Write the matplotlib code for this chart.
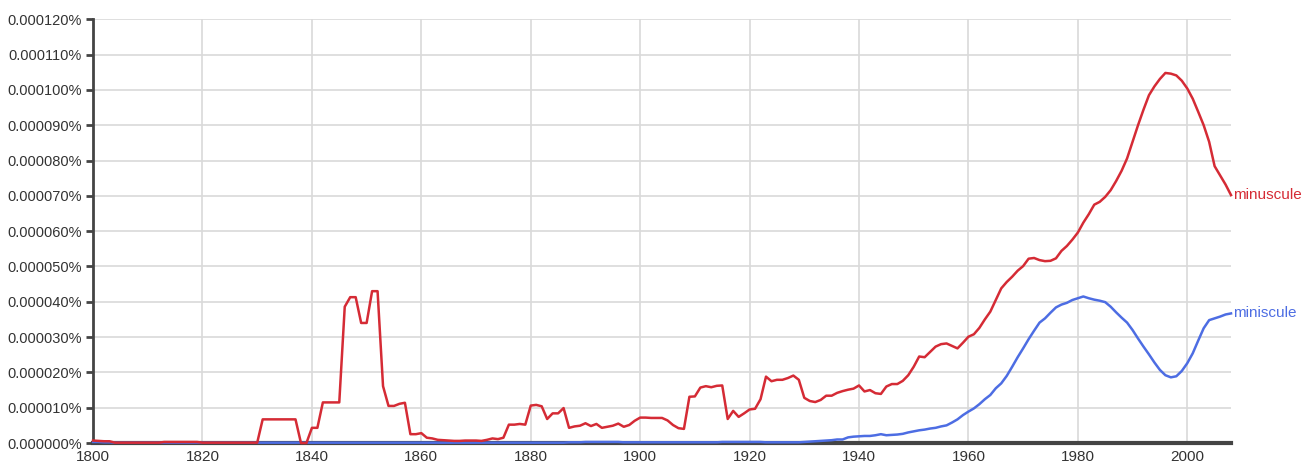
import numpy as np
import matplotlib
matplotlib.use('Agg')
from matplotlib import pyplot as plt
from matplotlib.ticker import FuncFormatter

#Data: yearly frequency, in units of 0.000001 percent
years = list(range(1800, 2009))

minuscule = [
    # 1800-1839
    0.7, 0.6, 0.5, 0.5, 0.1, 0.1, 0.1, 0.1, 0.1, 0.1,
    0.1, 0.1, 0.1, 0.3, 0.3, 0.3, 0.3, 0.3, 0.3, 0.3,
    0.1, 0.1, 0.1, 0.1, 0.1, 0.1, 0.1, 0.1, 0.1, 0.1,
    0.1, 6.7, 6.7, 6.7, 6.7, 6.7, 6.7, 6.7, 0.0, 0.0,
    # 1840-1879
    4.3, 4.3, 11.5, 11.5, 11.5, 11.5, 38.6, 41.3, 41.3, 34.0,
    34.0, 43.0, 43.0, 16.1, 10.5, 10.5, 11.1, 11.4, 2.5, 2.5,
    2.8, 1.5, 1.3, 0.9, 0.8, 0.7, 0.6, 0.6, 0.7, 0.7,
    0.7, 0.6, 0.9, 1.3, 1.1, 1.5, 5.2, 5.2, 5.4, 5.2,
    # 1880-1919
    10.6, 10.8, 10.4, 6.8, 8.4, 8.4, 9.9, 4.3, 4.7, 4.9,
    5.6, 4.8, 5.4, 4.3, 4.6, 4.9, 5.5, 4.6, 5.1, 6.3,
    7.2, 7.2, 7.1, 7.1, 7.1, 6.4, 5.1, 4.2, 4.0, 13.1,
    13.2, 15.7, 16.1, 15.8, 16.2, 16.3, 6.8, 9.1, 7.4, 8.4,
    # 1920-1959
    9.5, 9.7, 12.4, 18.8, 17.5, 17.9, 17.9, 18.4, 19.1, 17.9,
    12.8, 11.9, 11.6, 12.2, 13.4, 13.4, 14.2, 14.7, 15.1, 15.4,
    16.3, 14.6, 15.0, 14.1, 13.9, 16.0, 16.7, 16.7, 17.6, 19.2,
    21.6, 24.5, 24.3, 25.8, 27.3, 28.0, 28.2, 27.5, 26.8, 28.4,
    # 1960-1999
    30.1, 30.8, 32.6, 35.0, 37.2, 40.5, 43.8, 45.6, 47.1, 48.8,
    50.1, 52.2, 52.4, 51.8, 51.5, 51.6, 52.3, 54.4, 55.8, 57.6,
    59.6, 62.4, 64.8, 67.5, 68.3, 69.7, 71.6, 74.2, 77.1, 80.6,
    85.3, 90.0, 94.4, 98.5, 101.0, 103.1, 104.8, 104.6, 104.1, 102.6,
    # 2000-2008
    100.4, 97.5, 93.8, 90.0, 85.3, 78.4, 75.8, 73.2, 70.2,
]

miniscule = [
    # 1800-1839
    0.3, 0.3, 0.2, 0.2, 0.1, 0.1, 0.1, 0.1, 0.1, 0.1,
    0.1, 0.1, 0.1, 0.1, 0.1, 0.1, 0.1, 0.1, 0.1, 0.1,
    0.1, 0.1, 0.1, 0.1, 0.1, 0.1, 0.1, 0.1, 0.1, 0.1,
    0.1, 0.1, 0.1, 0.1, 0.1, 0.1, 0.1, 0.1, 0.1, 0.1,
    # 1840-1879
    0.1, 0.1, 0.1, 0.1, 0.1, 0.1, 0.1, 0.1, 0.1, 0.1,
    0.1, 0.1, 0.1, 0.1, 0.1, 0.1, 0.1, 0.1, 0.1, 0.1,
    0.1, 0.1, 0.1, 0.1, 0.1, 0.1, 0.1, 0.1, 0.1, 0.1,
    0.1, 0.1, 0.1, 0.1, 0.1, 0.1, 0.1, 0.1, 0.1, 0.1,
    # 1880-1919
    0.1, 0.1, 0.1, 0.1, 0.1, 0.1, 0.1, 0.2, 0.2, 0.2,
    0.3, 0.3, 0.3, 0.3, 0.3, 0.3, 0.3, 0.2, 0.2, 0.2,
    0.2, 0.2, 0.2, 0.2, 0.2, 0.2, 0.2, 0.2, 0.2, 0.2,
    0.2, 0.2, 0.2, 0.2, 0.2, 0.3, 0.3, 0.3, 0.3, 0.3,
    # 1920-1959
    0.3, 0.3, 0.3, 0.2, 0.2, 0.2, 0.2, 0.2, 0.2, 0.2,
    0.3, 0.4, 0.5, 0.6, 0.7, 0.8, 1.0, 1.0, 1.6, 1.8,
    1.9, 2.0, 2.0, 2.2, 2.5, 2.2, 2.3, 2.4, 2.6, 3.0,
    3.3, 3.6, 3.8, 4.1, 4.3, 4.7, 5.0, 5.8, 6.7, 7.9,
    # 1960-1999
    8.9, 9.8, 11.0, 12.4, 13.6, 15.5, 16.9, 19.0, 21.6, 24.3,
    26.8, 29.4, 31.8, 34.1, 35.3, 36.9, 38.4, 39.2, 39.7, 40.5,
    41.0, 41.5, 41.0, 40.6, 40.3, 39.9, 38.6, 37.0, 35.5, 34.1,
    32.0, 29.6, 27.3, 25.1, 22.8, 20.7, 19.2, 18.6, 18.9, 20.4,
    # 2000-2008
    22.6, 25.4, 29.0, 32.5, 34.8, 35.3, 35.8, 36.4, 36.7,
]

series_names = ['miniscule', 'minuscule']
series_colors = ['#4d6de3', '#d52b35']

plt.rcParams['font.family'] = ['Liberation Sans', 'DejaVu Sans']

fig = plt.figure(figsize=(13.11, 4.69), dpi=100)
ax = fig.add_axes([0.071, 0.0554, 0.868, 0.9035])

#blue underneath, red on top; unclipped so the zero-level line sits over the axis
ax.plot(years, miniscule, color=series_colors[0], lw=1.8, zorder=6, clip_on=False)
ax.plot(years, minuscule, color=series_colors[1], lw=1.8, zorder=7, clip_on=False)

#end labels
for name, vals, col in [('minuscule', minuscule, series_colors[1]), ('miniscule', miniscule, series_colors[0])]:
    ax.text(years[-1] + 0.4, vals[-1], name, color=col, fontsize=11, va='center', ha='left', clip_on=False)

ax.set_xlim(1800, 2008)
ax.set_ylim(0, 120)
ax.set_xticks(range(1800, 2001, 20))
ax.set_yticks(np.arange(0, 121, 10))
ax.yaxis.set_major_formatter(FuncFormatter(lambda v, p: '{:.6f}%'.format(v / 1e6)))

ax.grid(True, color='#d9d9d9', lw=1.2, zorder=0)
ax.set_axisbelow(True)
for s in ['top', 'right']:
    ax.spines[s].set_visible(False)
ax.spines['left'].set_color('#444444')
ax.spines['left'].set_linewidth(2)
ax.spines['bottom'].set_color('#444444')
ax.spines['bottom'].set_linewidth(3)
ax.tick_params(axis='y', length=5, width=2, color='#444444', labelsize=10.5, labelcolor='#333333', pad=3)
ax.tick_params(axis='x', length=0, labelsize=11, labelcolor='#333333', pad=5)

fig.savefig('out.png', dpi=100)
